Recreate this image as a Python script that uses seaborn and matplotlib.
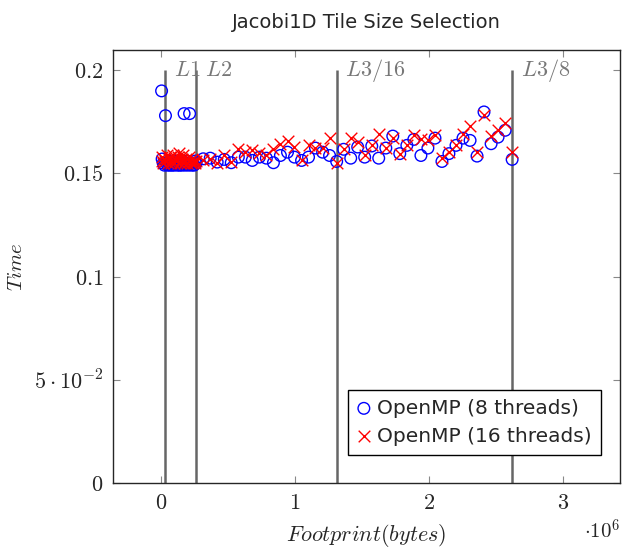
import matplotlib
matplotlib.use("Agg")
import matplotlib.pyplot as plt
import seaborn as sns
import pandas as pd

# footprint in units of 1e6 bytes
x_cluster = [0.004, 0.008, 0.016, 0.025, 0.033, 0.041, 0.049, 0.057, 0.066, 0.074,
             0.082, 0.090, 0.098, 0.106, 0.115, 0.123, 0.131, 0.139, 0.147, 0.156,
             0.164, 0.172, 0.180, 0.188, 0.197, 0.205, 0.213, 0.221, 0.229, 0.238,
             0.246, 0.254, 0.262]
omp8_cluster = [0.190, 0.157, 0.155, 0.154, 0.178, 0.155, 0.154, 0.155, 0.154, 0.156,
                0.154, 0.155, 0.154, 0.155, 0.156, 0.154, 0.155, 0.154, 0.156, 0.154,
                0.155, 0.179, 0.154, 0.155, 0.156, 0.154, 0.179, 0.155, 0.154, 0.155,
                0.154, 0.156, 0.155]
omp16_cluster = [0.156, 0.158, 0.155, 0.157, 0.156, 0.159, 0.155, 0.157, 0.158, 0.155,
                 0.156, 0.159, 0.155, 0.157, 0.156, 0.158, 0.160, 0.155, 0.156, 0.157,
                 0.159, 0.155, 0.156, 0.157, 0.155, 0.158, 0.156, 0.155, 0.157, 0.155,
                 0.156, 0.155, 0.156]

x_main = [0.315, 0.367, 0.419, 0.472, 0.524, 0.577, 0.629, 0.681, 0.734, 0.786,
          0.839, 0.891, 0.944, 0.996, 1.049, 1.101, 1.153, 1.206, 1.258, 1.311,
          1.363, 1.416, 1.468, 1.520, 1.573, 1.625, 1.678, 1.730, 1.782, 1.835,
          1.887, 1.940, 1.992, 2.045, 2.097, 2.149, 2.202, 2.254, 2.307, 2.359,
          2.411, 2.464, 2.516, 2.569, 2.621]
omp8_main = [0.1571, 0.1574, 0.1555, 0.1568, 0.1552, 0.1579, 0.1579, 0.1563, 0.1579, 0.1574,
             0.1552, 0.1587, 0.1603, 0.1579, 0.1563, 0.1579, 0.1623, 0.1603, 0.1587, 0.1558,
             0.1617, 0.1574, 0.1628, 0.1579, 0.1633, 0.1574, 0.1623, 0.1681, 0.1596, 0.1636,
             0.1665, 0.1587, 0.1623, 0.1671, 0.1558, 0.1596, 0.1636, 0.1671, 0.1660, 0.1584,
             0.1798, 0.1644, 0.1676, 0.1709, 0.1568]
omp16_main = [0.1563, 0.1571, 0.1552, 0.1591, 0.1555, 0.1620, 0.1604, 0.1615, 0.1599, 0.1587,
              0.1620, 0.1644, 0.1655, 0.1628, 0.1563, 0.1639, 0.1623, 0.1623, 0.1672, 0.1552,
              0.1620, 0.1672, 0.1652, 0.1587, 0.1636, 0.1693, 0.1623, 0.1672, 0.1596, 0.1636,
              0.1684, 0.1665, 0.1660, 0.1684, 0.1574, 0.1604, 0.1636, 0.1693, 0.1730, 0.1604,
              0.1782, 0.1681, 0.1709, 0.1746, 0.1604]

cache_x = [0.032768, 0.262144, 1.310720, 2.621440]
cache_labels = ['$L1$', '$L2$', '$L3/16$', '$L3/8$']

df8 = pd.DataFrame({'footprint': x_cluster + x_main, 'time': omp8_cluster + omp8_main})
df16 = pd.DataFrame({'footprint': x_cluster + x_main, 'time': omp16_cluster + omp16_main})

# --- style ---
sns.set_style('ticks')
plt.rcParams['font.family'] = ['DejaVu Sans']
plt.rcParams['mathtext.fontset'] = 'cm'

fig, ax = plt.subplots(figsize=(6.39, 5.52), dpi=100)
fig.subplots_adjust(left=0.177, right=0.970, top=0.909, bottom=0.125)

# cache size markers
ax.vlines(cache_x, 0, 0.2, color='#666666', lw=1.8, zorder=1)
for cx, lab in zip(cache_x, cache_labels):
    ax.annotate(lab, xy=(cx, 0.2), xytext=(6, 0), textcoords='offset points',
                ha='left', va='center', color='#777777', fontsize=16)

sns.scatterplot(data=df8, x='footprint', y='time', ax=ax,
                marker='o', facecolor='none', edgecolor='blue', linewidth=1,
                s=70, label='OpenMP (8 threads)', zorder=3)
sns.scatterplot(data=df16, x='footprint', y='time', ax=ax,
                marker='x', color='red', linewidth=1,
                s=70, label='OpenMP (16 threads)', zorder=4)

ax.set_xlim(-0.358, 3.425)
ax.set_ylim(0, 0.2097)

ax.set_xticks([0, 1, 2, 3])
ax.set_xticklabels(['$0$', '$1$', '$2$', '$3$'])
ax.set_yticks([0, 0.05, 0.1, 0.15, 0.2])
ax.set_yticklabels(['$0$', r'$5\cdot10^{-2}$', '$0.1$', '$0.15$', '$0.2$'])
ax.tick_params(direction='in', top=True, right=True, labelsize=16, length=5,
               color='#888888', pad=7)
for sp in ax.spines.values():
    sp.set_linewidth(1.0)

ax.set_xlabel('$Footprint(bytes)$', fontsize=16, labelpad=7)
ax.set_ylabel('$Time$', fontsize=15, labelpad=6)
ax.text(0.93, -0.11, r'$\cdot10^{6}$', transform=ax.transAxes,
        ha='left', va='center', fontsize=15)
ax.set_title('Jacobi1D Tile Size Selection', fontsize=14, pad=16)

ax.legend(loc='lower right', bbox_to_anchor=(0.982, 0.042), fontsize=14.5,
          frameon=True, fancybox=False, edgecolor='black', framealpha=1,
          handlelength=0.7, handletextpad=0.3, borderpad=0.45, labelspacing=0.45)

plt.savefig('out.png', dpi=100)
